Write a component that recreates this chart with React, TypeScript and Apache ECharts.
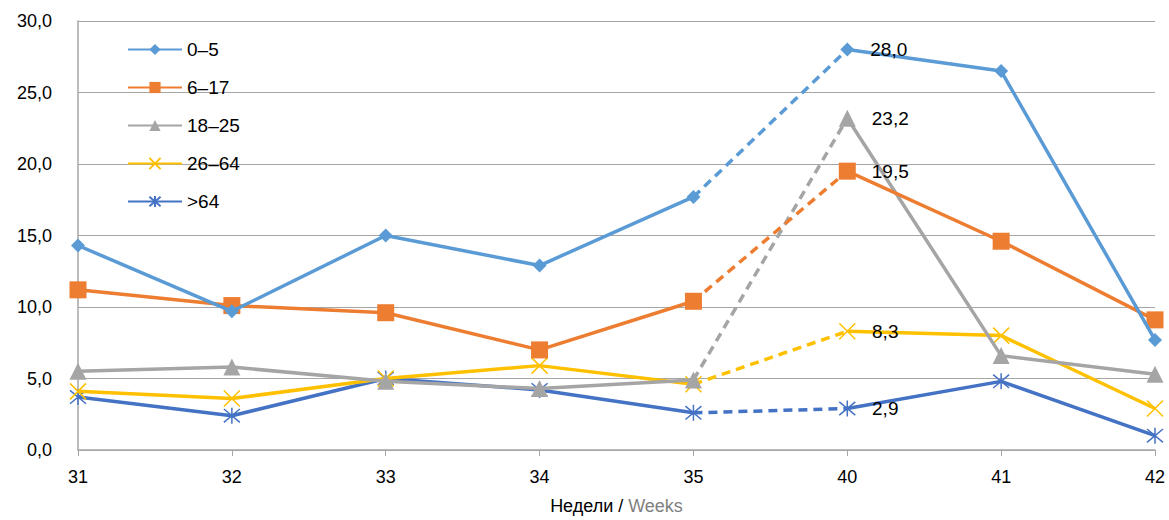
import React, { useEffect, useRef } from "react";
import * as echarts from "echarts";

const weeks = ["31", "32", "33", "34", "35", "40", "41", "42"];
const names = ["0–5", "6–17", "18–25", "26–64", ">64"];
const age0to5 = [14.3, 9.7, 15.0, 12.9, 17.7, 28.0, 26.5, 7.7];
const age6to17 = [11.2, 10.1, 9.6, 7.0, 10.4, 19.5, 14.6, 9.1];
const age18to25 = [5.5, 5.8, 4.8, 4.3, 4.9, 23.2, 6.6, 5.3];
const age26to64 = [4.1, 3.6, 5.0, 5.9, 4.6, 8.3, 8.0, 2.9];
const age65plus = [3.7, 2.4, 5.0, 4.2, 2.6, 2.9, 4.8, 1.0];
const yTicks = [0, 5, 10, 15, 20, 25, 30];

const colors = ["#5b9bd5", "#ed7d31", "#a5a5a5", "#ffc000", "#4472c4"];
const symbols = [
  "diamond",
  "rect",
  "triangle",
  "path://M0 0L10 10M10 0L0 10",
  "path://M0 0L10 10M10 0L0 10M5 -1L5 11",
];
const symbolSizes = [14, 17, 17, 16, 16];
const allData = [age0to5, age6to17, age18to25, age26to64, age65plus];

export default function App() {
  const ref = useRef<HTMLDivElement>(null);
  useEffect(() => {
    if (!ref.current) return;
    const chart = echarts.init(ref.current, null, { renderer: "svg" });
    const series: any[] = [];
    allData.forEach((d, i) => {
      const stroke = i >= 3;
      const itemStyle = stroke
        ? { color: "rgba(0,0,0,0)", borderColor: colors[i], borderWidth: 1.5 }
        : { color: colors[i] };
      const common = {
        type: "line",
        name: names[i],
        symbol: symbols[i],
        symbolSize: symbolSizes[i],
        itemStyle,
        lineStyle: { color: colors[i], width: 3.5 },
        connectNulls: false,
        z: 5 - i,
      };
      series.push({
        ...common,
        data: d.map((v, k) => (k <= 4 ? v : null)),
      });
      series.push({
        ...common,
        data: d.map((v, k) => (k >= 5 ? v : null)),
        label: {
          show: true,
          position: "right",
          distance: 16,
          fontSize: 19,
          color: "#000",
          fontFamily: "Liberation Sans, Arial, sans-serif",
          formatter: (p: any) =>
            p.dataIndex === 5 ? String(p.value.toFixed(1)).replace(".", ",") : "",
        },
      });
      series.push({
        type: "line",
        name: names[i],
        data: d.map((v, k) => (k === 4 || k === 5 ? v : null)),
        showSymbol: false,
        symbol: "none",
        lineStyle: { color: colors[i], width: 3.5, type: [9, 6] },
        z: 4 - i,
      });
    });
    chart.setOption({
      animation: false,
      textStyle: { fontFamily: "Liberation Sans, Arial, sans-serif" },
      grid: { left: 78, right: 14, top: 21, bottom: 65 },
      legend: {
        orient: "vertical",
        left: 122,
        top: 35,
        itemWidth: 54,
        itemHeight: 14,
        itemGap: 19,
        data: names,
        textStyle: { fontSize: 19, color: "#000" },
      },
      xAxis: {
        type: "category",
        boundaryGap: false,
        data: weeks,
        axisLine: { lineStyle: { color: "#a6a6a6", width: 1.5 } },
        axisTick: { show: true, length: 6, lineStyle: { color: "#a6a6a6" } },
        axisLabel: { fontSize: 18, color: "#000", margin: 18 },
        name: "{a|Недели / }{b|Weeks}",
        nameLocation: "middle",
        nameGap: 47,
        nameTextStyle: {
          rich: {
            a: { fontSize: 18, color: "#000" },
            b: { fontSize: 18, color: "#7f7f7f" },
          },
        },
      },
      yAxis: {
        type: "value",
        min: yTicks[0],
        max: yTicks[yTicks.length - 1],
        interval: 5,
        axisLine: { show: true, lineStyle: { color: "#a6a6a6", width: 1.5 } },
        axisTick: { show: false },
        splitLine: { lineStyle: { color: "#a6a6a6", width: 1.2 } },
        axisLabel: {
          fontSize: 18,
          color: "#000",
          margin: 26,
          formatter: (v: number) => v.toFixed(1).replace(".", ","),
        },
      },
      series,
    });
    return () => chart.dispose();
  }, []);
  return <div ref={ref} style={{ width: 1169, height: 520, position: "absolute", left: 0, top: 0 }} />;
}
